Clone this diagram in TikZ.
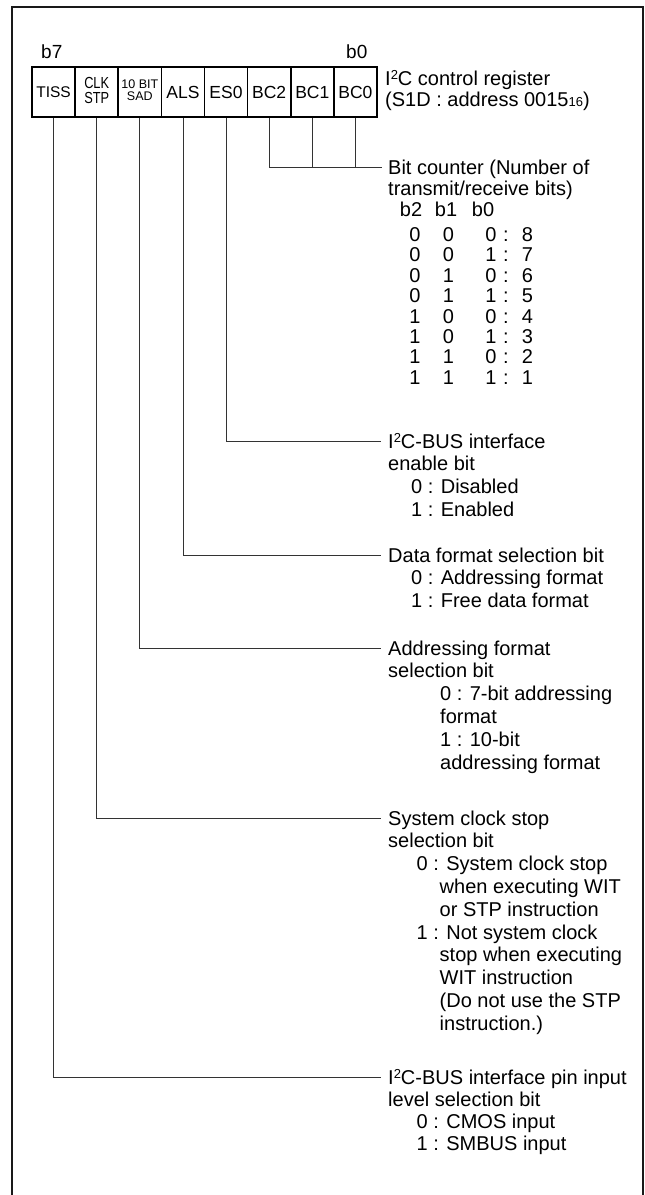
\documentclass[tikz,border=0pt]{standalone}
\usepackage{fontspec}
\setmainfont{Liberation Sans}
\usepackage{graphicx}
\newcommand\supii{\raisebox{5.5pt}{\fontsize{13}{13}\selectfont 2}}
\newcommand\subxvi{{\fontsize{13}{13}\selectfont 16}}
\newcommand\dlines[1]{\begin{tabular}[t]{@{}l@{}}#1\end{tabular}}
\begin{document}
\begin{tikzpicture}[x=1pt,y=-1pt,
  outerframe/.style={line width=2.2pt, black!90},
  regbox/.style={draw, line width=1.6pt, minimum width=43.1pt, minimum height=50pt, inner sep=0pt, font=\fontsize{17.5}{18}\selectfont},
  wire/.style={line width=0.8pt, black!80},
  desc/.style={anchor=base west, inner sep=0pt, font=\fontsize{20}{22.8}\selectfont},
  cell/.style={anchor=base, inner sep=0pt, font=\fontsize{20}{20}\selectfont},
  bitlbl/.style={anchor=base west, inner sep=0pt, font=\fontsize{19}{19}\selectfont},
]
\useasboundingbox (0,0) rectangle (645,1195);
% outer frame
\draw[outerframe] (12,1195) -- (12,7) -- (643,7) -- (643,1195);

% bit labels
\node[bitlbl] (b7) at (41,58) {b7};
\node[bitlbl] (b0) at (346,58) {b0};

% register boxes
\node[regbox] (tiss) at (53.6,92) {\fontsize{15.5}{16}\selectfont TISS};
\node[regbox] (clk) at (96.7,92) {\scalebox{0.8}[1]{\fontsize{16}{12.5}\selectfont\begin{tabular}{@{}c@{}}CLK\\STP\end{tabular}}};
\node[regbox] (sad) at (139.8,92) {\fontsize{12.5}{11}\selectfont\begin{tabular}{@{}c@{}}10 BIT\\SAD\end{tabular}};
\node[regbox] (als) at (183,92) {ALS};
\node[regbox] (es0) at (226,92) {ES0};
\node[regbox] (bc2) at (269.2,92) {BC2};
\node[regbox] (bc1) at (312.3,92) {BC1};
\node[regbox] (bc0) at (355.4,92) {BC0};

% title
\node[desc] (title) at (385,85) {\fontsize{20}{21}\selectfont\dlines{I\supii C control register\\(S1D : address 0015\subxvi)}};

% bit counter
\node[desc] (bcT) at (388,174) {\fontsize{20}{21}\selectfont\dlines{Bit counter (Number of\\transmit/receive bits)}};
\node[cell] (hb2) at (411,216) {b2};
\node[cell] (hb1) at (446,216) {b1};
\node[cell] (hb0) at (483,216) {b0};
\foreach \a/\b/\c/\v [count=\i from 0] in {0/0/0/8,0/0/1/7,0/1/0/6,0/1/1/5,1/0/0/4,1/0/1/3,1/1/0/2,1/1/1/1}{
  \node[cell] (ra\i) at (415,{241.5+20.4*\i}) {\a};
  \node[cell] (rb\i) at (448.5,{241.5+20.4*\i}) {\b};
  \node[cell] (rc\i) at (491,{241.5+20.4*\i}) {\c};
  \node[cell] (rk\i) at (506,{241.5+20.4*\i}) {:};
  \node[cell] (rv\i) at (527.5,{241.5+20.4*\i}) {\v};
}

% descriptions
\node[desc] (esT) at (388,448) {\dlines{I\supii C-BUS interface\\enable bit\\\hspace{23pt}0 : Disabled\\\hspace{23pt}1 : Enabled}};
\node[desc] (alsT) at (388,562) {\dlines{Data format selection bit\\\hspace{23pt}0 : Addressing format\\\hspace{23pt}1 : Free data format}};
\node[desc] (sadT) at (388,655) {\dlines{Addressing format\\selection bit\\\hspace{52pt}0 : 7-bit addressing\\\hspace{52pt}format\\\hspace{52pt}1 : 10-bit\\\hspace{52pt}addressing format}};
\node[desc] (clkT) at (388,825) {\dlines{System clock stop\\selection bit\\\hspace{28.5pt}0 : System clock stop\\\hspace{51.5pt}when executing WIT\\\hspace{51.5pt}or STP instruction\\\hspace{28.5pt}1 : Not system clock\\\hspace{51.5pt}stop when executing\\\hspace{51.5pt}WIT instruction\\\hspace{51.5pt}(Do not use the STP\\\hspace{51.5pt}instruction.)}};
\node[desc] (tissT) at (388,1084) {\fontsize{20}{22.2}\selectfont\dlines{I\supii C-BUS interface pin input\\level selection bit\\\hspace{28.5pt}0 : CMOS input\\\hspace{28.5pt}1 : SMBUS input}};

% leader end points
\coordinate (bcL) at (382,167);
\coordinate (esL) at (380.5,441);
\coordinate (alsL) at (380.5,555);
\coordinate (sadL) at (380.5,648);
\coordinate (clkL) at (380.5,818);
\coordinate (tissL) at (380.5,1077);

% connectors
\draw[wire] (bc2.south) |- (bcL);
\draw[wire] (bc1.south) -- (bc1.south |- bcL);
\draw[wire] (bc0.south) -- (bc0.south |- bcL);
\draw[wire] (es0.south) |- (esL);
\draw[wire] (als.south) |- (alsL);
\draw[wire] (sad.south) |- (sadL);
\draw[wire] (clk.south) |- (clkL);
\draw[wire] (tiss.south) |- (tissL);
\end{tikzpicture}
\end{document}
